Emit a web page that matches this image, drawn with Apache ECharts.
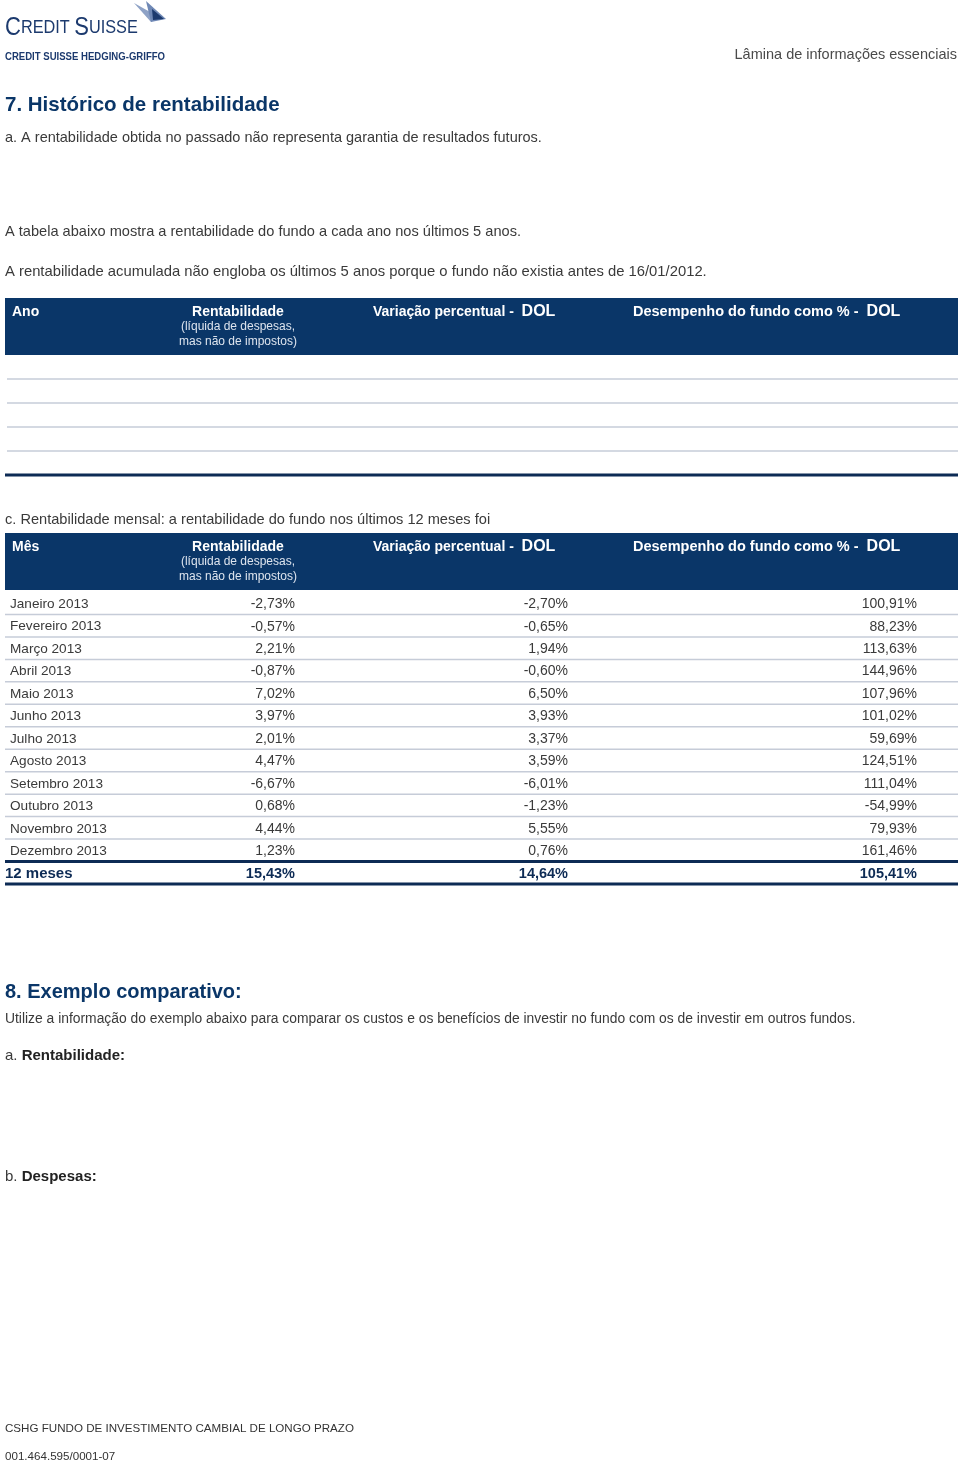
<!DOCTYPE html>
<html><head><meta charset="utf-8">
<script src="https://cdn.jsdelivr.net/npm/echarts@6/dist/echarts.min.js"></script>
<style>html,body{margin:0;padding:0;background:#fff}#c{width:960px;height:1463px}</style>
</head><body><div id="c"></div>
<script>
// ---- data ----
const months = ['Janeiro 2013','Fevereiro 2013','Março 2013','Abril 2013','Maio 2013','Junho 2013','Julho 2013','Agosto 2013','Setembro 2013','Outubro 2013','Novembro 2013','Dezembro 2013'];
const rentabilidade = [-2.73,-0.57,2.21,-0.87,7.02,3.97,2.01,4.47,-6.67,0.68,4.44,1.23];
const variacaoDOL = [-2.70,-0.65,1.94,-0.60,6.50,3.93,3.37,3.59,-6.01,-1.23,5.55,0.76];
const desempenhoDOL = [100.91,88.23,113.63,144.96,107.96,101.02,59.69,124.51,111.04,-54.99,79.93,161.46];
const totalLabel = '12 meses';
const totals = [15.43, 14.64, 105.41];
const yearRows = ['', '', '', '', '']; // tabela anual vazia (5 anos)

// ---- style ----
const NAVY = '#0a3668', DARK = '#0d2b55', TXT = '#3a3a3a', SEP = '#c6ccd8', LOGO = '#1c3a6e';
const FF = '"Liberation Sans", Arial, sans-serif';
const fmt = v => v.toFixed(2).replace('.', ',') + '%';

const chart = echarts.init(document.getElementById('c'), null, {renderer: 'canvas'});

function txt(text, x, y, size, opts) {
  opts = opts || {};
  return {type: 'text', silent: true, x, y, scaleX: opts.scaleX || 1, style: {
    text, x: 0, y: 0, fill: opts.fill || TXT, fontSize: size, fontWeight: opts.weight || 'normal',
    fontFamily: FF, textAlign: opts.align || 'left', textVerticalAlign: 'middle'
  }};
}
function richTxt(text, x, y, rich, scaleX) {
  return {type: 'text', silent: true, x, y, scaleX: scaleX || 1, style: {x: 0, y: 0, text, rich, fontFamily: FF, textVerticalAlign: 'middle'}};
}

function header(y, first) {
  const h = 57, els = [];
  const W = {fill: '#fff', fontWeight: 'bold', fontFamily: FF};
  els.push({type: 'rect', silent: true, shape: {x: 5, y, width: 953, height: h}, style: {fill: NAVY}});
  els.push(txt(first, 12, y + 14, 14, {fill: '#fff', weight: 'bold'}));
  els.push(txt('Rentabilidade', 238, y + 14, 14, {fill: '#fff', weight: 'bold', align: 'center'}));
  els.push(txt('(líquida de despesas,', 238, y + 29, 12, {fill: '#dde4ee', align: 'center'}));
  els.push(txt('mas não de impostos)', 238, y + 44, 12, {fill: '#dde4ee', align: 'center'}));
  els.push(richTxt('{a|Variação percentual -  }{b|DOL}', 373, y + 14, {a: Object.assign({fontSize: 14}, W), b: Object.assign({fontSize: 16}, W)}));
  els.push(richTxt('{a|Desempenho do fundo como % -  }{b|DOL}', 633, y + 14, {a: Object.assign({fontSize: 14.5}, W), b: Object.assign({fontSize: 16}, W)}));
  return els;
}

const graphics = [
  // logo
  {type: 'polygon', silent: true, shape: {points: [[134,3],[159,17],[151,22]]}, style: {fill: '#8ea2c6'}},
  {type: 'polygon', silent: true, shape: {points: [[146,1],[166,19],[151,22]]}, style: {fill: '#6f88b5'}},
  {type: 'polygon', silent: true, shape: {points: [[152,9],[164,19],[153,20]]}, style: {fill: LOGO}},
  richTxt('{b|C}{s|REDIT }{b|S}{s|UISSE}', 5, 28, {b: {fill: LOGO, fontSize: 25, fontFamily: FF}, s: {fill: LOGO, fontSize: 18.5, fontFamily: FF}}, 0.88),
  txt('CREDIT SUISSE HEDGING-GRIFFO', 5, 57, 11, {fill: LOGO, weight: 'bold', scaleX: 0.87}),
  txt('Lâmina de informações essenciais', 957, 55, 14.5, {fill: '#4a4a4a', align: 'right'}),
  txt('7. Histórico de rentabilidade', 5, 105, 20.5, {fill: NAVY, weight: 'bold'}),
  txt('a. A rentabilidade obtida no passado não representa garantia de resultados futuros.', 5, 138, 14.5),
  txt('A tabela abaixo mostra a rentabilidade do fundo a cada ano nos últimos 5 anos.', 5, 232, 14.6),
  txt('A rentabilidade acumulada não engloba os últimos 5 anos porque o fundo não existia antes de 16/01/2012.', 5, 272, 14.8),
  ...header(298, 'Ano'),
  txt('c. Rentabilidade mensal: a rentabilidade do fundo nos últimos 12 meses foi', 5, 520, 14.6),
  ...header(533, 'Mês'),
  txt('8. Exemplo comparativo:', 5, 992, 20, {fill: NAVY, weight: 'bold'}),
  txt('Utilize a informação do exemplo abaixo para comparar os custos e os benefícios de investir no fundo com os de investir em outros fundos.', 5, 1019, 14, {scaleX: 0.99}),
  richTxt('{a|a. }{b|Rentabilidade:}', 5, 1056, {a: {fill: TXT, fontSize: 15, fontFamily: FF}, b: {fill: '#222', fontSize: 15, fontWeight: 'bold', fontFamily: FF}}),
  richTxt('{a|b. }{b|Despesas:}', 5, 1177, {a: {fill: TXT, fontSize: 15, fontFamily: FF}, b: {fill: '#222', fontSize: 15, fontWeight: 'bold', fontFamily: FF}}),
  txt('CSHG FUNDO DE INVESTIMENTO CAMBIAL DE LONGO PRAZO', 5, 1429, 11.6, {fill: '#333'}),
  txt('001.464.595/0001-07', 5, 1457, 11.6, {fill: '#333'})
];

// column anchors relative to grid left
const COL_LABEL = 5, COL_R = [290, 563, 912];

const monthRows = months.map((m, i) => [0, i]).concat([[0, months.length]]);
const monthCats = months.concat([totalLabel]);

function renderMonthly(params, api) {
  const i = params.dataIndex;
  const cs = params.coordSys;
  const c = api.coord([0, i]);
  const h = api.size([0, 1])[1];
  const isTotal = i === months.length;
  const y = c[1] + 1;
  const children = [];
  const wt = isTotal ? 'bold' : 'normal';
  const col = isTotal ? DARK : TXT;
  const vals = isTotal ? totals : [rentabilidade[i], variacaoDOL[i], desempenhoDOL[i]];
  children.push({type: 'text', style: {text: monthCats[i], x: cs.x + (isTotal ? 0 : COL_LABEL), y, fill: col, fontSize: isTotal ? 15 : 13.6, fontWeight: wt, fontFamily: FF, textVerticalAlign: 'middle'}});
  vals.forEach((v, k) => children.push({type: 'text', style: {text: fmt(v), x: cs.x + COL_R[k], y, fill: col, fontSize: isTotal ? 14.5 : 14, fontWeight: wt, fontFamily: FF, textAlign: 'right', textVerticalAlign: 'middle'}}));
  const yb = c[1] + h / 2;
  const thick = i >= months.length - 1;
  children.push({type: 'line', shape: {x1: cs.x, y1: yb, x2: cs.x + cs.width, y2: yb}, style: {stroke: thick ? DARK : SEP, lineWidth: thick ? 3 : 1.5}});
  return {type: 'group', children};
}

function renderYears(params, api) {
  const i = params.dataIndex;
  const cs = params.coordSys;
  const c = api.coord([0, i]);
  const h = api.size([0, 1])[1];
  const yb = c[1] + h / 2;
  const last = i === yearRows.length - 1;
  return {type: 'line', shape: {x1: cs.x + (last ? 0 : 2), y1: yb, x2: cs.x + cs.width, y2: yb}, style: {stroke: last ? DARK : SEP, lineWidth: last ? 3 : 1.5}};
}

chart.setOption({
  animation: false,
  backgroundColor: '#fff',
  graphic: graphics,
  grid: [
    {left: 5, right: 2, top: 355, height: 120},
    {left: 5, right: 2, top: 592, height: 292}
  ],
  xAxis: [
    {type: 'value', gridIndex: 0, min: 0, max: 1, show: false},
    {type: 'value', gridIndex: 1, min: 0, max: 1, show: false}
  ],
  yAxis: [
    {type: 'category', gridIndex: 0, data: yearRows.map((_, i) => 'r' + i), inverse: true, show: false},
    {type: 'category', gridIndex: 1, data: monthCats, inverse: true, show: false}
  ],
  series: [
    {type: 'custom', xAxisIndex: 0, yAxisIndex: 0, data: yearRows.map((_, i) => [0, i]), renderItem: renderYears, silent: true},
    {type: 'custom', xAxisIndex: 1, yAxisIndex: 1, data: monthRows, renderItem: renderMonthly, silent: true}
  ]
});
</script></body></html>
